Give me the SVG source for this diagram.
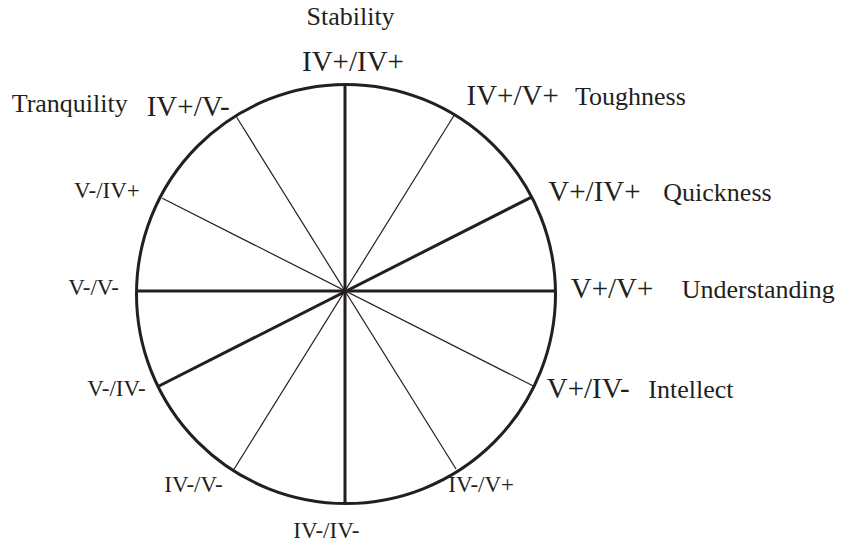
<svg xmlns="http://www.w3.org/2000/svg" width="848" height="543" viewBox="0 0 848 543">
<style>
text{font-family:"Liberation Serif","Times New Roman",serif;fill:#231f20}
.big{font-size:29px}
.lab{font-size:26px}
.sm{font-size:23px}
.thick{stroke:#231f20;stroke-width:3;fill:none}
.thin{stroke:#231f20;stroke-width:1.2;fill:none}
</style>
<rect width="848" height="543" fill="#fff"/>
<g id="wheel">
<circle cx="346" cy="294" r="209.5" class="thick"/>
</g>
<g id="connectors">
<line x1="345" y1="85" x2="345" y2="503" class="thick" stroke-width="2.6"/>
<line x1="137" y1="291" x2="555" y2="291" class="thick"/>
<line x1="531" y1="197.3" x2="159" y2="386" class="thick"/>
<line x1="454.3" y1="115" x2="234" y2="469.3" class="thin"/>
<line x1="236.7" y1="117.3" x2="456" y2="469" class="thin"/>
<line x1="162.3" y1="198.3" x2="533.3" y2="386" class="thin"/>
</g>
<g id="n-top">
<text class="lab" x="306.5" y="25">Stability</text>
<text class="big" x="302" y="70.5">IV+/IV+</text>
</g>
<g id="n-tough">
<text class="big" x="466.5" y="105">IV+/V+</text>
<text class="lab" x="575" y="105">Toughness</text>
</g>
<g id="n-quick">
<text class="big" x="548.3" y="200.7">V+/IV+</text>
<text class="lab" x="663.3" y="200.7">Quickness</text>
</g>
<g id="n-under">
<text class="big" x="570.7" y="298.3">V+/V+</text>
<text class="lab" x="681.7" y="298.3">Understanding</text>
</g>
<g id="n-intel">
<text class="big" x="546.7" y="397.7">V+/IV-</text>
<text class="lab" x="648.3" y="397.7">Intellect</text>
</g>
<g id="n-tranq">
<text class="lab" x="11.7" y="112">Tranquility</text>
<text class="big" x="146.7" y="116">IV+/V-</text>
</g>
<g id="n-v-iv+"><text class="sm" x="74" y="197.7">V-/IV+</text></g>
<g id="n-v-v-"><text class="sm" x="68.3" y="295">V-/V-</text></g>
<g id="n-v-iv-"><text class="sm" x="87.3" y="396">V-/IV-</text></g>
<g id="n-iv-v-"><text class="sm" x="164.3" y="491.7">IV-/V-</text></g>
<g id="n-iv-v+"><text class="sm" x="448.3" y="491.7">IV-/V+</text></g>
<g id="n-iv-iv-"><text class="sm" x="293.3" y="538.3">IV-/IV-</text></g>
</svg>
